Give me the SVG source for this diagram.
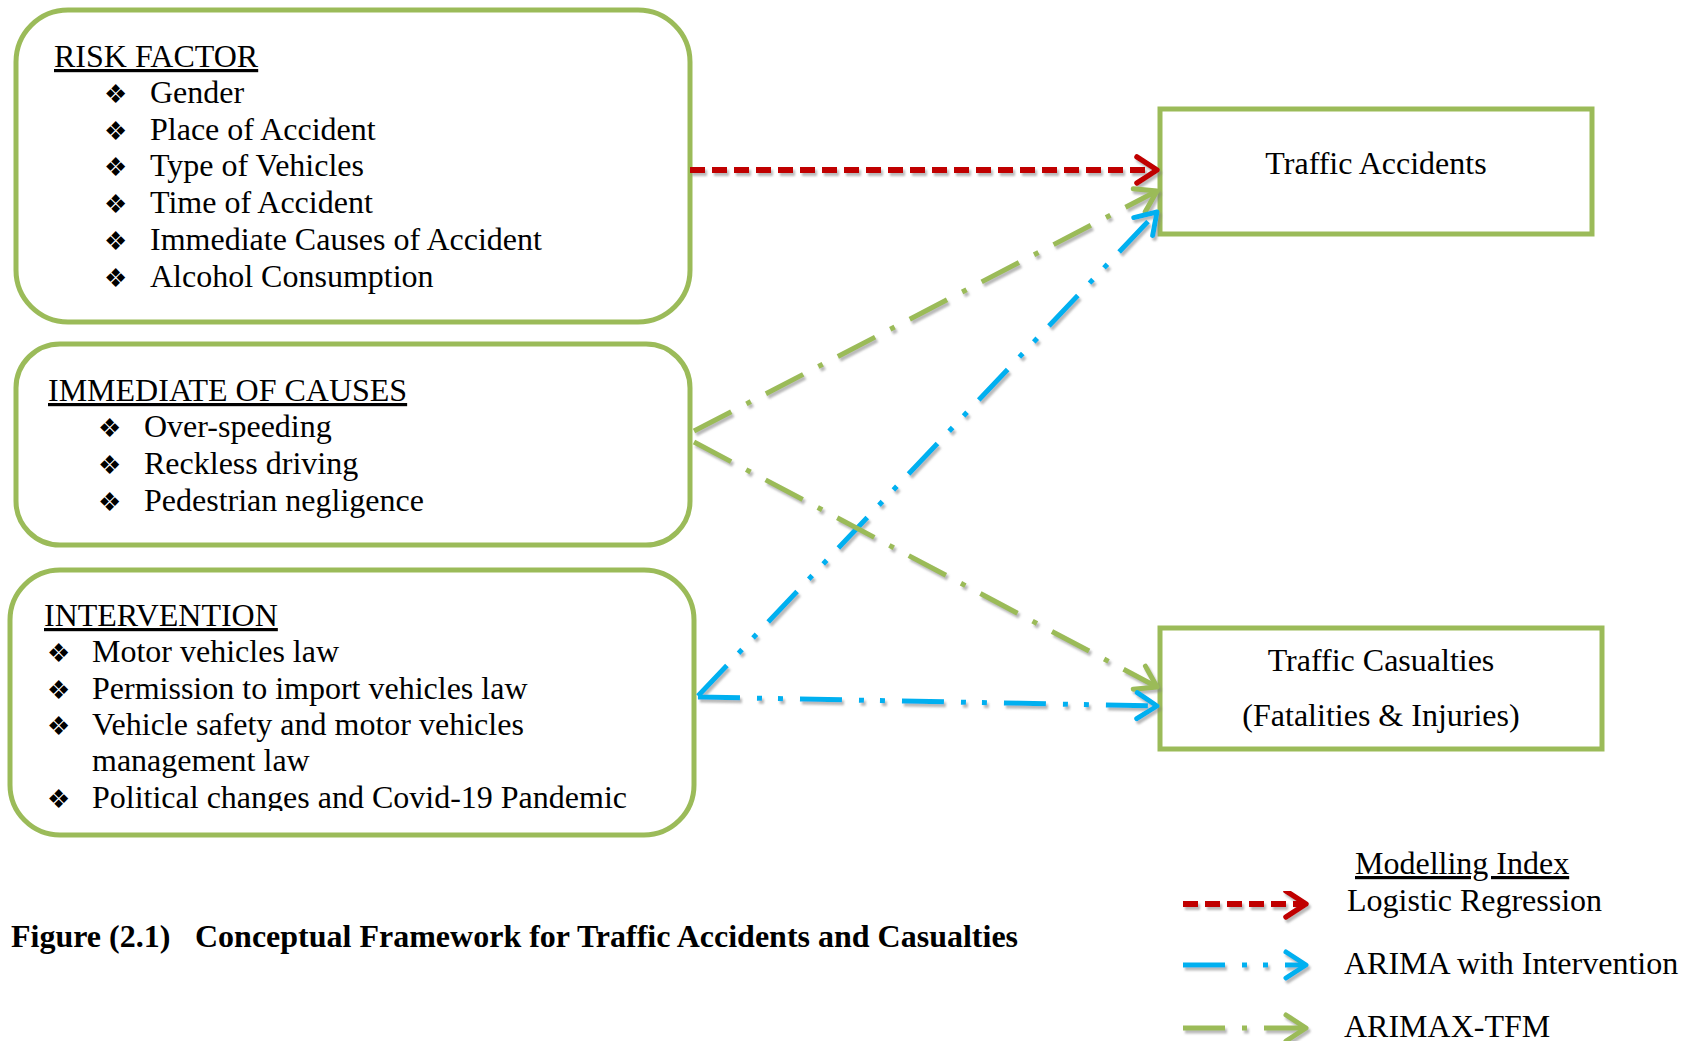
<svg xmlns="http://www.w3.org/2000/svg" width="1698" height="1042" viewBox="0 0 1698 1042">
  <style>
    text { font-family: "Liberation Serif", "Times New Roman", serif; font-size: 32px; fill: #000; }
    .head { text-decoration: underline; }
    .bul { font-family: "DejaVu Sans", sans-serif; font-size: 26px; }
    .caption { font-weight: bold; }
    .mid { text-anchor: middle; }
    .rbox { fill: #fff; stroke: #9BBB59; stroke-width: 5; }
    .sbox { fill: #fff; stroke: #9BBB59; stroke-width: 5; }
    .conn { fill: none; stroke-width: 5; }
    .logit { stroke: #C00000; stroke-width: 6; stroke-dasharray: 15 7; marker-end: url(#arrRed); }
    .arima { stroke: #00B0F0; stroke-dasharray: 42 17 5 16 5 17; marker-end: url(#arrBlue); }
    .tfm { stroke: #9BBB59; stroke-dasharray: 42 17 5 17; marker-end: url(#arrGreen); }
  </style>
  <defs>
    <filter id="shadow" x="-10%" y="-10%" width="120%" height="120%">
      <feDropShadow dx="2" dy="3" stdDeviation="1.3" flood-color="#7f7f7f" flood-opacity="0.55"/>
    </filter>
    <marker id="arrRed" markerUnits="userSpaceOnUse" viewBox="-26 -17 30 34" markerWidth="30" markerHeight="34" refX="0" refY="0" orient="auto">
      <path d="M-20,-13 L0,0 L-20,13" fill="none" stroke="#C00000" stroke-width="5.5" stroke-linecap="round" stroke-linejoin="round"/>
    </marker>
    <marker id="arrBlue" markerUnits="userSpaceOnUse" viewBox="-26 -17 30 34" markerWidth="30" markerHeight="34" refX="0" refY="0" orient="auto">
      <path d="M-20,-13 L0,0 L-20,13" fill="none" stroke="#00B0F0" stroke-width="5" stroke-linecap="round" stroke-linejoin="round"/>
    </marker>
    <marker id="arrGreen" markerUnits="userSpaceOnUse" viewBox="-26 -17 30 34" markerWidth="30" markerHeight="34" refX="0" refY="0" orient="auto">
      <path d="M-20,-13 L0,0 L-20,13" fill="none" stroke="#9BBB59" stroke-width="5" stroke-linecap="round" stroke-linejoin="round"/>
    </marker>
    <clipPath id="interClip">
      <rect x="0" y="560" width="700" height="251"/>
    </clipPath>
  </defs>

  <rect width="1698" height="1042" fill="#fff"/>

  <!-- Risk factor node -->
  <g id="risk-factor">
    <rect class="rbox" x="16" y="10" width="674" height="312" rx="52" ry="52"/>
    <text class="head" x="54" y="67">RISK FACTOR</text>
    <text class="bul" x="104" y="103">❖</text><text x="150" y="103">Gender</text>
    <text class="bul" x="104" y="140">❖</text><text x="150" y="140">Place of Accident</text>
    <text class="bul" x="104" y="176">❖</text><text x="150" y="176">Type of Vehicles</text>
    <text class="bul" x="104" y="213">❖</text><text x="150" y="213">Time of Accident</text>
    <text class="bul" x="104" y="250">❖</text><text x="150" y="250">Immediate Causes of Accident</text>
    <text class="bul" x="104" y="287">❖</text><text x="150" y="287">Alcohol Consumption</text>
  </g>

  <!-- Immediate causes node -->
  <g id="immediate-causes">
    <rect class="rbox" x="16" y="344" width="674" height="201" rx="44" ry="44"/>
    <text class="head" x="48" y="401">IMMEDIATE OF CAUSES</text>
    <text class="bul" x="98" y="437">❖</text><text x="144" y="437">Over-speeding</text>
    <text class="bul" x="98" y="474">❖</text><text x="144" y="474">Reckless driving</text>
    <text class="bul" x="98" y="511">❖</text><text x="144" y="511">Pedestrian negligence</text>
  </g>

  <!-- Intervention node -->
  <g id="intervention">
    <rect class="rbox" x="10" y="570" width="684" height="265" rx="50" ry="50"/>
    <text class="head" x="44" y="626">INTERVENTION</text>
    <text class="bul" x="47" y="662">❖</text><text x="92" y="662">Motor vehicles law</text>
    <text class="bul" x="47" y="699">❖</text><text x="92" y="699">Permission to import vehicles law</text>
    <text class="bul" x="47" y="735">❖</text><text x="92" y="735">Vehicle safety and motor vehicles</text>
    <text x="92" y="771">management law</text>
    <g clip-path="url(#interClip)">
      <text class="bul" x="47" y="808">❖</text><text x="92" y="808">Political changes and Covid-19 Pandemic</text>
    </g>
  </g>

  <!-- Outcome nodes -->
  <g id="traffic-accidents">
    <rect class="sbox" x="1160" y="109" width="432" height="125"/>
    <text class="mid" x="1376" y="174">Traffic Accidents</text>
  </g>
  <g id="traffic-casualties">
    <rect class="sbox" x="1160" y="628" width="442" height="121"/>
    <text class="mid" x="1381" y="671">Traffic Casualties</text>
    <text class="mid" x="1381" y="726">(Fatalities &amp; Injuries)</text>
  </g>

  <!-- Connectors -->
  <g id="connectors" filter="url(#shadow)">
    <line class="conn logit" x1="690" y1="170" x2="1157" y2="170"/>
    <line class="conn tfm" x1="694" y1="431" x2="1157" y2="191"/>
    <line class="conn arima" x1="698" y1="696" x2="1157" y2="212"/>
    <line class="conn tfm" x1="694" y1="442" x2="1157" y2="687"/>
    <line class="conn arima" x1="698" y1="697" x2="1157" y2="706"/>
  </g>

  <!-- Caption -->
  <text class="caption" x="11" y="947">Figure (2.1)<tspan x="195">Conceptual Framework for Traffic Accidents and Casualties</tspan></text>

  <!-- Legend -->
  <g id="legend">
    <text class="head" x="1355" y="874">Modelling Index</text>
    <g filter="url(#shadow)">
      <line class="conn logit" x1="1183" y1="904" x2="1306" y2="904"/>
      <line class="conn arima" x1="1183" y1="965" x2="1306" y2="965"/>
      <line class="conn tfm" x1="1183" y1="1028" x2="1306" y2="1028"/>
    </g>
    <text x="1347" y="911">Logistic Regression</text>
    <text x="1344" y="974">ARIMA with Intervention</text>
    <text x="1344" y="1037">ARIMAX-TFM</text>
  </g>
</svg>
